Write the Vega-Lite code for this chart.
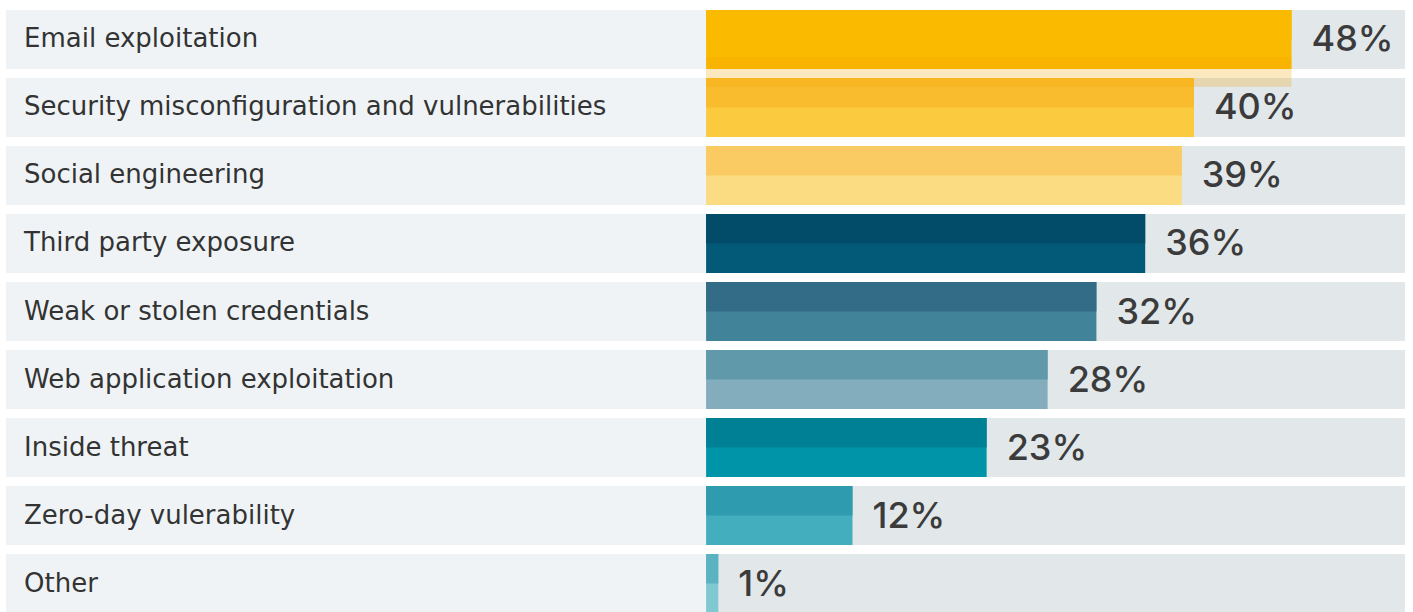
{
  "$schema": "https://vega.github.io/schema/vega-lite/v6.json",
  "width": 1399,
  "height": 603,
  "autosize": {"type": "none"},
  "padding": {"left": 6, "top": 10, "right": 8, "bottom": 0},
  "background": "#ffffff",
  "config": {"view": {"stroke": null}},
  "data": {
    "values": [
      {"cause": "Email exploitation", "share": 0.48},
      {"cause": "Security misconfiguration and vulnerabilities", "share": 0.40},
      {"cause": "Social engineering", "share": 0.39},
      {"cause": "Third party exposure", "share": 0.36},
      {"cause": "Weak or stolen credentials", "share": 0.32},
      {"cause": "Web application exploitation", "share": 0.28},
      {"cause": "Inside threat", "share": 0.23},
      {"cause": "Zero-day vulerability", "share": 0.12},
      {"cause": "Other", "share": 0.01}
    ]
  },
  "encoding": {
    "y": {
      "field": "cause",
      "type": "nominal",
      "sort": null,
      "axis": null,
      "scale": {"paddingInner": 0.1324, "paddingOuter": 0}
    }
  },
  "layer": [
    {
      "mark": {"type": "bar", "color": "#EFF3F6"},
      "encoding": {
        "x": {"datum": -0.574, "type": "quantitative", "scale": {"domain": [-0.574, 0.573], "nice": false, "zero": false}, "axis": null},
        "x2": {"datum": 0}
      }
    },
    {
      "mark": {"type": "bar", "color": "#E2E7EA"},
      "encoding": {
        "x": {"datum": 0, "type": "quantitative"},
        "x2": {"datum": 0.573}
      }
    },
    {
      "mark": {"type": "bar"},
      "encoding": {
        "x": {"field": "share", "type": "quantitative"},
        "x2": {"datum": 0},
        "color": {
          "field": "cause",
          "type": "nominal",
          "sort": null,
          "legend": null,
          "scale": {
            "domain": ["Email exploitation", "Security misconfiguration and vulnerabilities", "Social engineering", "Third party exposure", "Weak or stolen credentials", "Web application exploitation", "Inside threat", "Zero-day vulerability", "Other"],
            "range": ["#FABA00", "#FBCA3F", "#FCDC82", "#025A78", "#418398", "#83ADBD", "#0094A8", "#42AEBE", "#80C8D2"]
          }
        }
      }
    },
    {
      "mark": {"type": "bar", "height": {"band": 0.5}, "yOffset": -14.75},
      "encoding": {
        "x": {"field": "share", "type": "quantitative"},
        "x2": {"datum": 0},
        "color": {
          "field": "cause",
          "type": "nominal",
          "sort": null,
          "legend": null,
          "scale": {
            "domain": ["Email exploitation", "Security misconfiguration and vulnerabilities", "Social engineering", "Third party exposure", "Weak or stolen credentials", "Web application exploitation", "Inside threat", "Zero-day vulerability", "Other"],
            "range": ["#FABA00", "#F8BC2E", "#F9CB62", "#024B69", "#336C86", "#609AAA", "#008095", "#2F9BAE", "#5BB3C2"]
          }
        }
      }
    },
    {
      "transform": [{"filter": "datum.cause === 'Email exploitation'"}],
      "mark": {"type": "bar", "height": {"band": 0.5}, "yOffset": 32.5, "color": "#F5A400", "opacity": 0.25},
      "encoding": {
        "x": {"field": "share", "type": "quantitative"},
        "x2": {"datum": 0}
      }
    },
    {
      "mark": {"type": "text", "align": "left", "baseline": "middle", "dx": 18, "font": "DejaVu Sans", "fontSize": 26, "color": "#333333"},
      "encoding": {
        "x": {"datum": -0.574, "type": "quantitative"},
        "text": {"field": "cause"}
      }
    },
    {
      "mark": {"type": "text", "align": "left", "baseline": "middle", "dx": 20, "dy": 1, "font": "Inter", "fontSize": 36, "fontWeight": 500, "color": "#3B3B3B"},
      "encoding": {
        "x": {"field": "share", "type": "quantitative"},
        "text": {"field": "share", "format": ".0%"}
      }
    }
  ],
  "resolve": {"scale": {"color": "independent"}}
}
